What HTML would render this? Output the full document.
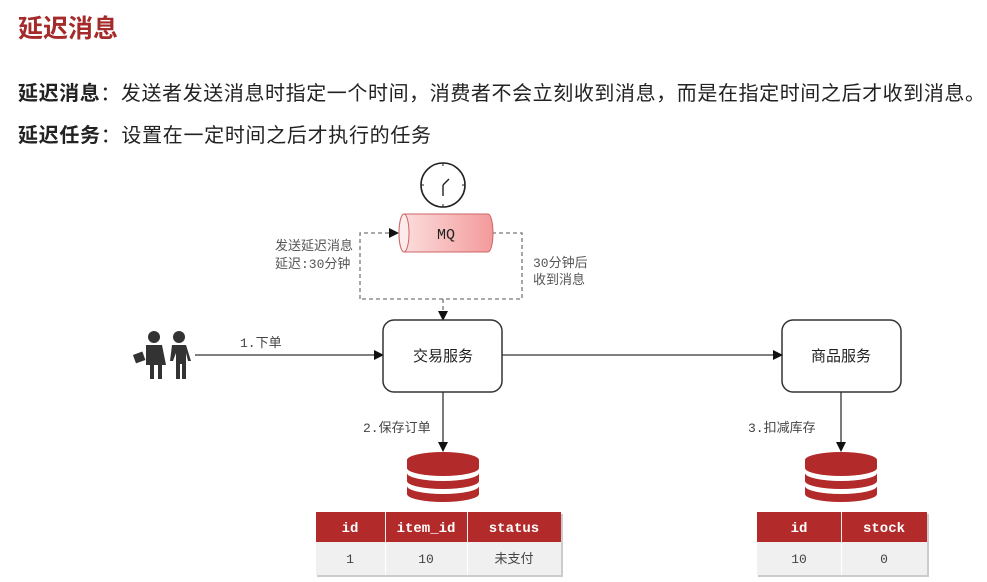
<!DOCTYPE html>
<html><head><meta charset="utf-8"><style>
html,body{margin:0;padding:0;background:#fff;}
svg{display:block}
text{font-family:"Liberation Sans","Noto Sans CJK SC",sans-serif;}
.mono{font-family:"Liberation Mono","Noto Sans CJK SC",monospace;}
</style></head><body>
<svg width="987" height="582" viewBox="0 0 987 582" xmlns="http://www.w3.org/2000/svg">
<defs>
<marker id="ar" markerWidth="10" markerHeight="10" refX="9" refY="5" orient="auto" markerUnits="userSpaceOnUse"><path d="M0,0 L10,5 L0,10 z" fill="#111"/></marker>
<linearGradient id="mqg" x1="0" y1="0" x2="1" y2="0"><stop offset="0" stop-color="#fbe0e0"/><stop offset="1" stop-color="#f49a9a"/></linearGradient>
</defs>
<text x="18" y="37" font-size="25" fill="#a52a2a" font-weight="bold">延迟消息</text>
<text x="18" y="100" font-size="20" fill="#222" textLength="967" lengthAdjust="spacing"><tspan font-weight="bold">延迟消息</tspan>：发送者发送消息时指定一个时间，消费者不会立刻收到消息，而是在指定时间之后才收到消息。</text>
<text x="18" y="142" font-size="20" fill="#222" textLength="413" lengthAdjust="spacing"><tspan font-weight="bold">延迟任务</tspan>：设置在一定时间之后才执行的任务</text>

<!-- clock -->
<circle cx="443" cy="185" r="22" fill="#fff" stroke="#222" stroke-width="1.6"/>
<line x1="443" y1="163" x2="443" y2="166" stroke="#222"/><line x1="443" y1="204" x2="443" y2="207" stroke="#222"/>
<line x1="421" y1="185" x2="424" y2="185" stroke="#222"/><line x1="462" y1="185" x2="465" y2="185" stroke="#222"/>
<line x1="443" y1="185" x2="443" y2="196" stroke="#222" stroke-width="1.4"/>
<line x1="443" y1="185" x2="449" y2="179" stroke="#222" stroke-width="1.4"/>

<!-- dashed loop -->
<path d="M360,299 L360,233 L398,233" fill="none" stroke="#777" stroke-width="1.3" stroke-dasharray="4,3" marker-end="url(#ar)"/>
<path d="M492,233 L522,233 L522,299 L360,299" fill="none" stroke="#777" stroke-width="1.3" stroke-dasharray="4,3"/>
<path d="M443,299 L443,320" fill="none" stroke="#777" stroke-width="1.3" stroke-dasharray="4,3" marker-end="url(#ar)"/>

<!-- MQ cylinder -->
<path d="M404,214 L488,214 A5,19 0 0 1 488,252 L404,252 A5,19 0 0 1 404,214 z" fill="url(#mqg)" stroke="#c66" stroke-width="1"/>
<ellipse cx="404" cy="233" rx="5" ry="19" fill="#fdeaea" stroke="#c66"/>
<text x="446" y="239" font-size="15" text-anchor="middle" class="mono" fill="#222">MQ</text>
<text x="275" y="250" font-size="13" class="mono" fill="#555">发送延迟消息</text>
<text x="275" y="268" font-size="13" class="mono" fill="#555">延迟:30分钟</text>
<text x="533" y="267" font-size="13" class="mono" fill="#555">30分钟后</text>
<text x="533" y="284" font-size="13" class="mono" fill="#555">收到消息</text>

<!-- people -->
<g fill="#333">
<circle cx="154" cy="337" r="6"/><path d="M146,345 h16 l4,20 h-4 v14 h-4 v-14 h-4 v14 h-4 v-14 h-4 z"/>
<rect x="134" y="353" width="10" height="9" transform="rotate(-20 139 357)"/>
<circle cx="179" cy="337" r="6"/><path d="M172,345 h14 l5,16 h-3 l-2,-8 v26 h-4 v-15 h-2 v15 h-4 v-26 l-3,8 h-3 z"/>
</g>
<line x1="195" y1="355" x2="383" y2="355" stroke="#333" stroke-width="1.3" marker-end="url(#ar)"/>
<text x="240" y="347" font-size="13" class="mono" fill="#444">1.下单</text>

<!-- boxes -->
<rect x="383" y="320" width="119" height="72" rx="11" fill="#fff" stroke="#333" stroke-width="1.5"/>
<text x="443" y="361" font-size="15" text-anchor="middle" fill="#222">交易服务</text>
<rect x="782" y="320" width="119" height="72" rx="11" fill="#fff" stroke="#333" stroke-width="1.5"/>
<text x="841" y="361" font-size="15" text-anchor="middle" fill="#222">商品服务</text>
<line x1="502" y1="355" x2="782" y2="355" stroke="#333" stroke-width="1.3" marker-end="url(#ar)"/>

<line x1="443" y1="392" x2="443" y2="451" stroke="#333" stroke-width="1.3" marker-end="url(#ar)"/>
<text x="363" y="432" font-size="13" class="mono" fill="#444">2.保存订单</text>
<line x1="841" y1="392" x2="841" y2="451" stroke="#333" stroke-width="1.3" marker-end="url(#ar)"/>
<text x="748" y="432" font-size="13" class="mono" fill="#444">3.扣减库存</text>

<!-- DBs -->
<g fill="#b22a2a">
<path d="M407,460 a36,8 0 0 1 72,0 v8 a36,8 0 0 1 -72,0 z"/>
<path d="M407,473 a36,8 0 0 0 72,0 v8 a36,8 0 0 1 -72,0 z"/>
<path d="M407,486 a36,8 0 0 0 72,0 v8 a36,8 0 0 1 -72,0 z"/>
<path d="M805,460 a36,8 0 0 1 72,0 v8 a36,8 0 0 1 -72,0 z"/>
<path d="M805,473 a36,8 0 0 0 72,0 v8 a36,8 0 0 1 -72,0 z"/>
<path d="M805,486 a36,8 0 0 0 72,0 v8 a36,8 0 0 1 -72,0 z"/>
</g>

<!-- table 1 -->
<rect x="317" y="514" width="246" height="63" fill="#ccc"/>
<rect x="316" y="512" width="245" height="63" fill="#f0f0f0"/>
<rect x="316" y="512" width="69" height="30" fill="#b22a2a"/>
<rect x="386" y="512" width="81" height="30" fill="#b22a2a"/>
<rect x="468" y="512" width="93" height="30" fill="#b22a2a"/>
<line x1="385.5" y1="542" x2="385.5" y2="575" stroke="#fff"/><line x1="467.5" y1="542" x2="467.5" y2="575" stroke="#fff"/>
<g font-size="14" font-weight="bold" fill="#fff" text-anchor="middle">
<text x="350" y="532" class="mono">id</text><text x="426" y="532" class="mono">item_id</text><text x="514" y="532" class="mono">status</text>
</g>
<g font-size="13" fill="#444" text-anchor="middle">
<text x="350" y="563" class="mono">1</text><text x="426" y="563" class="mono">10</text><text x="514" y="563">未支付</text>
</g>

<!-- table 2 -->
<rect x="758" y="514" width="171" height="63" fill="#ccc"/>
<rect x="757" y="512" width="170" height="63" fill="#f0f0f0"/>
<rect x="757" y="512" width="84" height="30" fill="#b22a2a"/>
<rect x="842" y="512" width="85" height="30" fill="#b22a2a"/>
<line x1="841.5" y1="542" x2="841.5" y2="575" stroke="#fff"/>
<g font-size="14" font-weight="bold" fill="#fff" text-anchor="middle">
<text x="799" y="532" class="mono">id</text><text x="884" y="532" class="mono">stock</text>
</g>
<g font-size="13" fill="#444" text-anchor="middle">
<text x="799" y="563" class="mono">10</text><text x="884" y="563" class="mono">0</text>
</g>
</svg>
</body></html>
